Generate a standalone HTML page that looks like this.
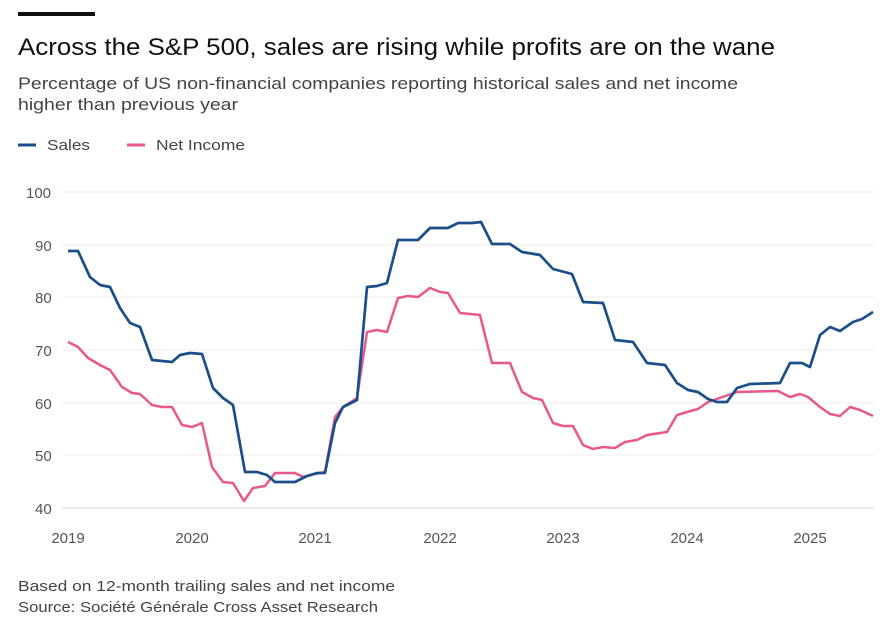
<!DOCTYPE html>
<html><head><style>
body{margin:0;background:#fff;width:893px;height:628px;overflow:hidden;font-family:"Liberation Sans",sans-serif;}
</style></head><body>
<svg width="893" height="628" xmlns="http://www.w3.org/2000/svg" style="position:absolute;left:0;top:0">
<rect x="18" y="12" width="77" height="4" fill="#111"/>
<text x="18" y="55" font-size="24" fill="#111" textLength="757" lengthAdjust="spacingAndGlyphs">Across the S&amp;P 500, sales are rising while profits are on the wane</text>
<text x="18" y="89" font-size="16.5" fill="#444" textLength="720" lengthAdjust="spacingAndGlyphs">Percentage of US non-financial companies reporting historical sales and net income</text>
<text x="18" y="110" font-size="16.5" fill="#444" textLength="220" lengthAdjust="spacingAndGlyphs">higher than previous year</text>
<line x1="18" y1="145" x2="36" y2="145" stroke="#1a4f8a" stroke-width="3"/>
<text x="47" y="150" font-size="15" fill="#444" textLength="43" lengthAdjust="spacingAndGlyphs">Sales</text>
<line x1="127" y1="145" x2="145" y2="145" stroke="#e8588a" stroke-width="3"/>
<text x="156" y="150" font-size="15" fill="#444" textLength="89" lengthAdjust="spacingAndGlyphs">Net Income</text>
<g stroke="#eee" stroke-width="1">
<line x1="62" y1="192" x2="875" y2="192"/><line x1="62" y1="245" x2="875" y2="245"/>
<line x1="62" y1="297" x2="875" y2="297"/><line x1="62" y1="350" x2="875" y2="350"/>
<line x1="62" y1="403" x2="875" y2="403"/><line x1="62" y1="455" x2="875" y2="455"/>
<line x1="62" y1="508" x2="875" y2="508" stroke="#ddd"/>
</g>
<g font-size="15" fill="#555">
<text x="26" y="198">100</text><text x="35" y="251">90</text><text x="35" y="303">80</text>
<text x="35" y="356">70</text><text x="35" y="409">60</text><text x="35" y="461">50</text><text x="35" y="514">40</text>
</g>
<g font-size="15" fill="#555" text-anchor="middle">
<text x="68" y="543">2019</text><text x="192" y="543">2020</text><text x="315" y="543">2021</text>
<text x="440" y="543">2022</text><text x="563" y="543">2023</text><text x="687" y="543">2024</text><text x="810" y="543">2025</text>
</g>
<polyline fill="none" stroke="#e8588a" stroke-width="2.5" stroke-linejoin="round" points="68,342 78,347 88,358 100,365 110,370 122,387 132,393 140,394 152,405 162,407 172,407 182,425 192,427 202,423 212,467 223,482 233,483 244,501 253,488 265,486 275,473 295,473 303,477 315,474 325,472 335,417 343,407 357,398 367,332 377,330 387,332 398,298 408,296 418,297 430,288 440,292 448,293 460,313 480,315 492,363 510,363 522,392 533,398 542,400 553,423 563,426 573,426 583,445 593,449 603,447 615,448 625,442 637,440 647,435 667,432 677,415 687,412 698,409 708,402 737,392 778,391 790,397 800,394 808,397 820,407 830,414 840,416 850,407 860,410 873,416"/>
<polyline fill="none" stroke="#1a4f8a" stroke-width="2.7" stroke-linejoin="round" points="68,251 78,251 90,277 100,285 110,287 120,308 130,323 140,327 152,360 172,362 180,355 190,353 202,354 213,388 223,398 233,405 245,472 257,472 267,475 275,482 295,482 307,476 317,473 325,473 335,423 343,407 357,400 367,287 377,286 387,283 398,240 418,240 430,228 448,228 458,223 472,223 481,222 492,244 510,244 522,252 540,255 553,269 572,274 583,302 603,303 615,340 633,342 647,363 665,365 677,383 688,390 698,392 708,399 717,402 727,402 737,388 750,384 780,383 790,363 802,363 810,367 820,335 830,327 840,331 853,322 862,319 873,312"/>
<text x="18" y="591" font-size="15" fill="#444" textLength="377" lengthAdjust="spacingAndGlyphs">Based on 12-month trailing sales and net income</text>
<text x="18" y="612" font-size="15" fill="#444" textLength="360" lengthAdjust="spacingAndGlyphs">Source: Société Générale Cross Asset Research</text>
</svg>
</body></html>
